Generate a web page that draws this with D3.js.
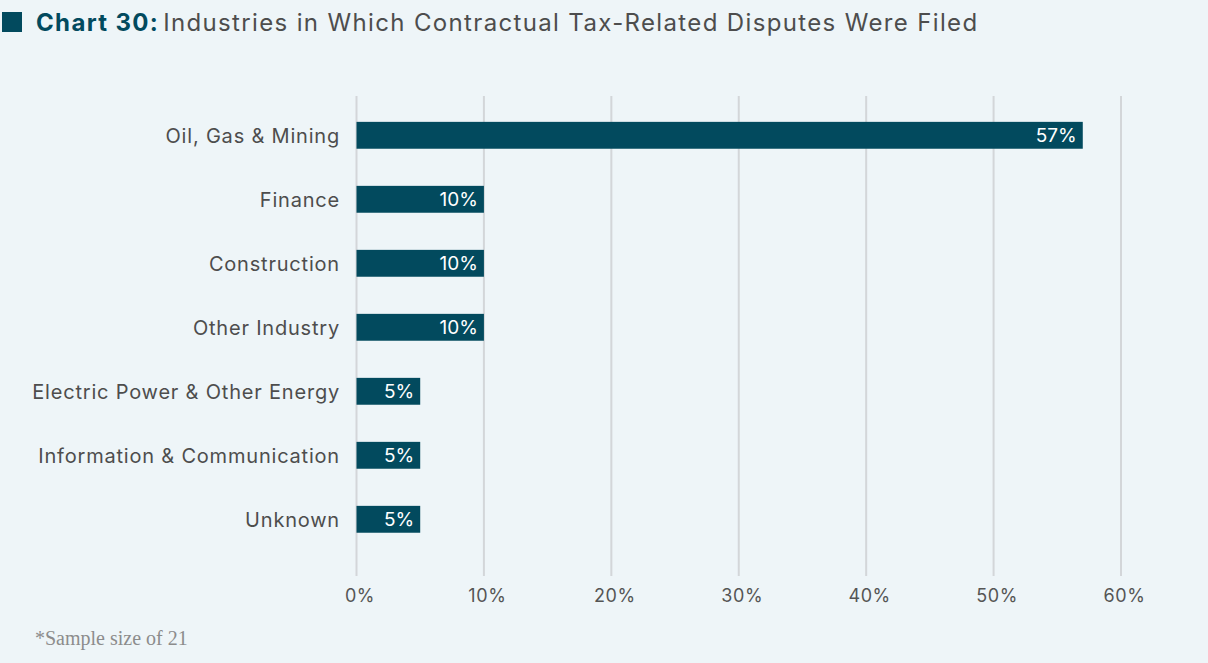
<!DOCTYPE html>
<html>
<head>
<meta charset="utf-8">
<script src="https://cdn.jsdelivr.net/npm/d3@7"></script>
<style>
  html, body { margin: 0; padding: 0; background: #EEF5F8; }
  svg { display: block; }
</style>
</head>
<body>
<svg id="chart" width="1208" height="663"></svg>
<script>
// Industries and share of contractual tax-related disputes (%)
const industries = [
  "Oil, Gas & Mining",
  "Finance",
  "Construction",
  "Other Industry",
  "Electric Power & Other Energy",
  "Information & Communication",
  "Unknown"
];
const shares = [57, 10, 10, 10, 5, 5, 5];
const tickValues = [0, 10, 20, 30, 40, 50, 60];

const W = 1208, H = 663;
const svg = d3.select("#chart");
const font = "Inter, 'Open Sans', sans-serif";
const textColor = "#4D4D4D";
const barColor = "#024A5E";

svg.append("rect").attr("width", W).attr("height", H).attr("fill", "#EEF5F8");

// Title
svg.append("rect").attr("x", 2).attr("y", 12).attr("width", 20).attr("height", 20).attr("fill", barColor);
const title = svg.append("text")
  .attr("x", 36).attr("y", 31)
  .attr("font-family", font).attr("font-size", 24)
  .attr("letter-spacing", 1.35)
  .attr("fill", textColor);
title.append("tspan").attr("font-weight", 700).attr("fill", barColor).text("Chart 30:");
title.append("tspan").attr("dx", 4).text("Industries in Which Contractual Tax-Related Disputes Were Filed");

const x = d3.scaleLinear().domain([0, 60]).range([356.5, 1121]);
const y = d3.scaleBand().domain(industries).range([103.3, 551.3])
  .paddingInner(0.58).paddingOuter(0.29);

// Vertical gridlines
svg.append("g").selectAll("line").data(tickValues).join("line")
  .attr("x1", d => x(d)).attr("x2", d => x(d))
  .attr("y1", 96).attr("y2", 576)
  .attr("stroke", "#D3D6D9").attr("stroke-width", 2);

// Bottom axis labels
const xAxis = d3.axisBottom(x).tickValues(tickValues).tickFormat(d => d + "%").tickSize(0).tickPadding(0);
const ax = svg.append("g").attr("transform", "translate(3,602)").call(xAxis);
ax.select(".domain").remove();
ax.selectAll("text")
  .attr("font-family", font).attr("font-size", 18).attr("fill", "#555")
  .attr("letter-spacing", 0.6)
  .attr("dy", 0).attr("y", 0);

// Category labels
const yAxis = d3.axisLeft(y).tickSize(0).tickPadding(0);
const ay = svg.append("g").attr("transform", "translate(340,0)").call(yAxis);
ay.select(".domain").remove();
ay.selectAll("text")
  .attr("font-family", font).attr("font-size", 20).attr("fill", textColor)
  .attr("letter-spacing", 0.8)
  .attr("dy", "0.4em");

// Bars
const rows = industries.map((name, i) => ({ name, value: shares[i] }));
svg.append("g").selectAll("rect").data(rows).join("rect")
  .attr("x", x(0)).attr("y", d => y(d.name))
  .attr("width", d => x(d.value) - x(0))
  .attr("height", y.bandwidth())
  .attr("fill", barColor);

// Value labels inside bar ends
svg.append("g").selectAll("text").data(rows).join("text")
  .attr("x", d => x(d.value) - 6)
  .attr("y", d => y(d.name) + y.bandwidth() / 2)
  .attr("dy", "0.36em")
  .attr("text-anchor", "end")
  .attr("font-family", font).attr("font-size", 19)
  .attr("fill", "#FFFFFF")
  .text(d => d.value + "%");

// Footnote
svg.append("text")
  .attr("x", 35).attr("y", 645)
  .attr("font-family", "'Liberation Serif', 'DejaVu Serif', serif")
  .attr("font-size", 20).attr("fill", "#8C8C8C")
  .text("*Sample size of 21");
</script>
</body>
</html>
